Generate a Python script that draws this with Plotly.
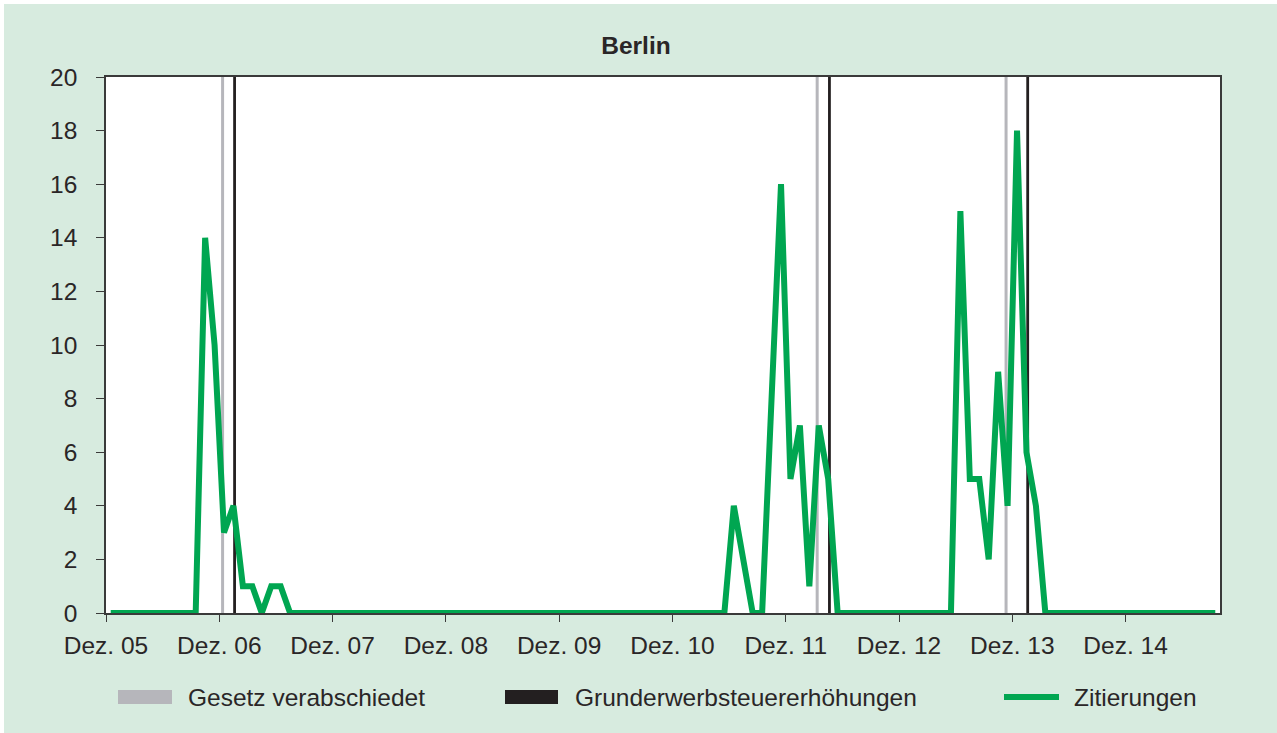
import plotly.graph_objects as go

# ---- data -------------------------------------------------------------
# monthly citations, first value = Dec 2005, last = Sep 2015
zitierungen = [
    0, 0, 0, 0, 0, 0, 0, 0, 0, 0, 14, 10,   # Dec05 - Nov06
    3, 4, 1, 1, 0, 1, 1, 0, 0, 0, 0, 0,     # Dec06 - Nov07
    0, 0, 0, 0, 0, 0, 0, 0, 0, 0, 0, 0,     # Dec07 - Nov08
    0, 0, 0, 0, 0, 0, 0, 0, 0, 0, 0, 0,     # Dec08 - Nov09
    0, 0, 0, 0, 0, 0, 0, 0, 0, 0, 0, 0,     # Dec09 - Nov10
    0, 0, 0, 0, 0, 0, 4, 2, 0, 0, 8, 16,    # Dec10 - Nov11
    5, 7, 1, 7, 5, 0, 0, 0, 0, 0, 0, 0,     # Dec11 - Nov12
    0, 0, 0, 0, 0, 0, 15, 5, 5, 2, 9, 4,    # Dec12 - Nov13
    18, 6, 4, 0, 0, 0, 0, 0, 0, 0, 0, 0,    # Dec13 - Nov14
    0, 0, 0, 0, 0, 0, 0, 0, 0, 0,           # Dec14 - Sep15
]
# event dates in months after 1 Dec 2005
gesetz_verabschiedet = [12.35, 75.33, 95.34]
steuererhoehungen = [13.62, 76.63, 97.63]

tick_labels = ["Dez. 05", "Dez. 06", "Dez. 07", "Dez. 08", "Dez. 09",
               "Dez. 10", "Dez. 11", "Dez. 12", "Dez. 13", "Dez. 14"]
tick_months = [12 * k for k in range(len(tick_labels))]

# ---- style ------------------------------------------------------------
W, H = 1277, 733
ML, MR, MT, MB = 106, 57, 77, 120
PW, PH = W - ML - MR, H - MT - MB
BG = "#d7ebdf"
GREEN = "#00a651"
GRAY = "#b6b6bb"
BLACK = "#231f20"
TXT = "#2a2627"
FONT = "Liberation Sans, Arial, sans-serif"
FS = 24.5


def px(x):
    return (x - ML) / PW


def py(y):
    return (H - MB - y) / PH


def vlines(positions):
    xs, ys = [], []
    for p in positions:
        xs += [p, p, None]
        ys += [0, 20, None]
    return xs, ys


fig = go.Figure()
gx, gy = vlines(gesetz_verabschiedet)
fig.add_trace(go.Scatter(x=gx, y=gy, mode="lines", line=dict(color=GRAY, width=3),
                         name="Gesetz verabschiedet", showlegend=False, hoverinfo="skip"))
bx, by = vlines(steuererhoehungen)
fig.add_trace(go.Scatter(x=bx, y=by, mode="lines", line=dict(color=BLACK, width=2.8),
                         name="Grunderwerbsteuererhöhungen", showlegend=False, hoverinfo="skip"))
fig.add_trace(go.Scatter(x=[i + 0.5 for i in range(len(zitierungen))], y=zitierungen,
                         mode="lines", line=dict(color=GREEN, width=6),
                         name="Zitierungen", showlegend=False))

shapes = [
    # white border strips around the green card
    dict(type="rect", xref="paper", yref="paper", x0=px(-5), x1=px(W + 5), y0=py(4), y1=py(-5),
         fillcolor="white", line_width=0, layer="below"),
    dict(type="rect", xref="paper", yref="paper", x0=px(-5), x1=px(4), y0=py(H + 5), y1=py(-5),
         fillcolor="white", line_width=0, layer="below"),
    # manual legend symbols
    dict(type="rect", xref="paper", yref="paper", x0=px(118), x1=px(172), y0=py(704), y1=py(690),
         fillcolor=GRAY, line_width=0),
    dict(type="rect", xref="paper", yref="paper", x0=px(505), x1=px(558), y0=py(704), y1=py(690),
         fillcolor=BLACK, line_width=0),
    dict(type="line", xref="paper", yref="paper", x0=px(1004), x1=px(1059), y0=py(697), y1=py(697),
         line=dict(color=GREEN, width=6)),
]

annotations = [
    dict(text=t, x=px(xx), y=py(697), xref="paper", yref="paper", xanchor="left",
         yanchor="middle", showarrow=False, font=dict(size=FS, color=TXT, family=FONT))
    for t, xx in [("Gesetz verabschiedet", 186), ("Grunderwerbsteuererhöhungen", 573),
                  ("Zitierungen", 1072)]
]

fig.update_layout(
    width=W, height=H,
    margin=dict(l=ML, r=MR, t=MT, b=MB),
    paper_bgcolor=BG, plot_bgcolor="white",
    font=dict(family=FONT, size=FS, color=TXT),
    title=dict(text="<b>Berlin</b>", x=0.498, xref="container", xanchor="center",
               y=1 - 45.5 / H, yref="container", yanchor="middle",
               font=dict(size=FS, color=TXT, family=FONT)),
    shapes=shapes, annotations=annotations,
    showlegend=False,
)
fig.update_xaxes(range=[0, 118], tickvals=tick_months, ticktext=tick_labels,
                 ticks="outside", ticklen=7, tickcolor="#3a3a3a", tickwidth=1.2,
                 showline=True, linecolor="#3a3a3a", linewidth=1.5, mirror=True,
                 showgrid=False, zeroline=False, ticklabelstandoff=3)
fig.update_yaxes(range=[0, 20], dtick=2, tick0=0,
                 ticks="outside", ticklen=8, tickcolor="#3a3a3a", tickwidth=1.2,
                 showline=True, linecolor="#3a3a3a", linewidth=1.5, mirror=True,
                 showgrid=False, zeroline=False, ticklabelstandoff=14)

fig.write_html("out.html",
               config={"displayModeBar": False},
               post_script="document.body.style.margin='0';"
                           "document.body.style.overflow='hidden';")
